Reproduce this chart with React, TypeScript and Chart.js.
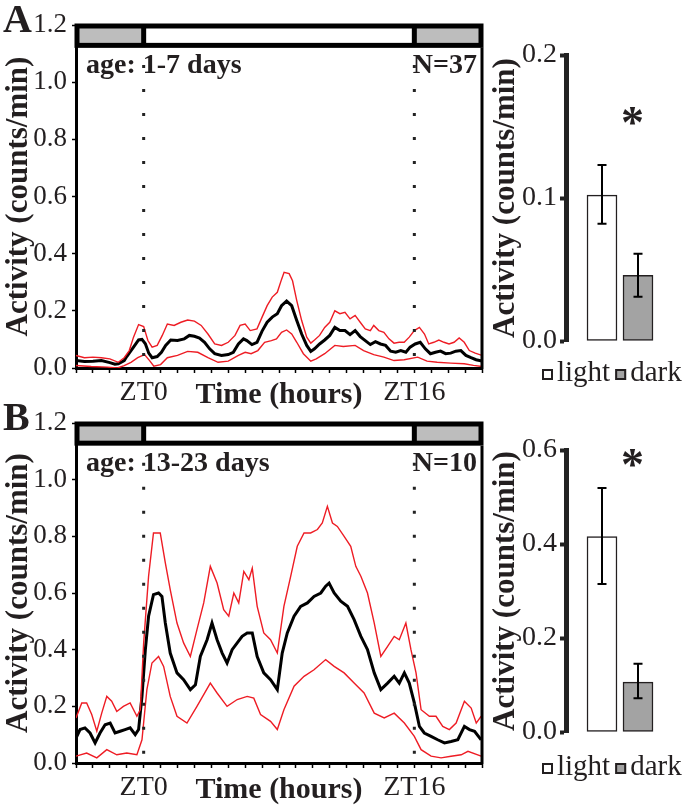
import React, { useEffect, useRef } from 'react';
import { Chart, registerables } from 'chart.js';

Chart.register(...registerables);

const SERIF = '"Liberation Serif", "Times New Roman", Times, serif';
const INK = '#231f20';
const RED = '#ee1c24';
const STRIP_GRAY = '#bdbdbd';
const BAR_GRAY = '#a3a3a3';

// ---------- time axis ----------
const X_MIN = -4;
const X_MAX = 20;
const X_TICK_HOURS = [0, 16];
const X_TICK_LABELS = ['ZT0', 'ZT16'];
const LIGHT_ON = 0;
const LIGHT_OFF = 16;
const STRIP_BOTTOM = 1.12;
const DOT_LINE = [1.06, 0.03];

// ---------- panel A (age 1-7 days) ----------
const A_MEAN_H = [-4, -3.5, -3, -2.5, -2, -1.7, -1.5, -1.15, -1, -0.6, -0.3, -0.1, 0.1, 0.3, 0.5, 0.8, 1.05, 1.3, 1.6, 2.0, 2.4, 2.7, 3.0, 3.3, 3.6, 3.9, 4.2, 4.6, 5.0, 5.3, 5.6, 5.9, 6.1, 6.4, 6.7, 7.0, 7.3, 7.6, 7.9, 8.15, 8.45, 8.75, 9.05, 9.34, 9.64, 9.88, 10.1, 10.4, 10.7, 11.0, 11.3, 11.6, 11.9, 12.2, 12.5, 12.8, 13.1, 13.4, 13.7, 14.0, 14.3, 14.6, 14.9, 15.2, 15.5, 15.75, 16.05, 16.35, 16.65, 16.95, 17.25, 17.55, 17.85, 18.15, 18.45, 18.75, 19.05, 19.35, 19.65, 20];
const A_MEAN = [0.026, 0.023, 0.024, 0.026, 0.019, 0.013, 0.015, 0.026, 0.04, 0.073, 0.098, 0.1, 0.085, 0.052, 0.036, 0.04, 0.055, 0.079, 0.098, 0.096, 0.102, 0.114, 0.111, 0.105, 0.09, 0.067, 0.05, 0.044, 0.047, 0.055, 0.084, 0.102, 0.096, 0.082, 0.09, 0.129, 0.16, 0.178, 0.19, 0.218, 0.234, 0.218, 0.166, 0.119, 0.079, 0.058, 0.067, 0.084, 0.098, 0.114, 0.142, 0.131, 0.131, 0.117, 0.131, 0.11, 0.096, 0.082, 0.092, 0.084, 0.079, 0.059, 0.055, 0.061, 0.055, 0.073, 0.084, 0.09, 0.067, 0.05, 0.055, 0.059, 0.05, 0.052, 0.059, 0.061, 0.044, 0.036, 0.029, 0.024];
const A_UPPER_H = [-4, -3.5, -3, -2.5, -2, -1.5, -1.15, -0.85, -0.6, -0.3, 0, 0.25, 0.5, 0.8, 1.1, 1.4, 1.8, 2.2, 2.6, 3.0, 3.4, 3.8, 4.2, 4.6, 5.0, 5.4, 5.7, 6.0, 6.3, 6.7, 7.0, 7.3, 7.6, 7.9, 8.15, 8.3, 8.6, 8.8, 9.05, 9.34, 9.64, 9.88, 10.1, 10.4, 10.7, 11.0, 11.3, 11.6, 11.9, 12.2, 12.5, 12.8, 13.1, 13.4, 13.6, 13.9, 14.2, 14.5, 14.8, 15.1, 15.4, 15.7, 16.0, 16.3, 16.6, 16.85, 17.15, 17.45, 17.75, 18.05, 18.35, 18.65, 18.95, 19.25, 19.6, 20];
const A_UPPER = [0.044, 0.036, 0.038, 0.036, 0.032, 0.02, 0.036, 0.061, 0.108, 0.152, 0.145, 0.096, 0.073, 0.079, 0.114, 0.154, 0.149, 0.16, 0.168, 0.164, 0.149, 0.119, 0.084, 0.079, 0.09, 0.114, 0.149, 0.154, 0.131, 0.137, 0.178, 0.218, 0.248, 0.265, 0.31, 0.335, 0.33, 0.305, 0.236, 0.166, 0.108, 0.087, 0.098, 0.114, 0.142, 0.16, 0.2, 0.19, 0.195, 0.172, 0.184, 0.16, 0.137, 0.131, 0.149, 0.131, 0.125, 0.102, 0.087, 0.09, 0.09, 0.108, 0.131, 0.142, 0.119, 0.084, 0.09, 0.098, 0.09, 0.084, 0.09, 0.105, 0.09, 0.061, 0.052, 0.044];
const A_LOWER_H = [-4, -3.1, -2.15, -1.55, -1.15, -0.75, -0.35, 0.05, 0.35, 0.6, 1.0, 1.4, 2.0, 2.6, 3.2, 3.8, 4.4, 5.0, 5.6, 6.0, 6.35, 6.75, 7.15, 7.55, 7.85, 8.15, 8.45, 8.75, 9.05, 9.44, 9.88, 10.2, 10.7, 11.3, 11.8, 12.5, 13.0, 13.6, 14.2, 14.8, 15.4, 16.2, 16.75, 17.35, 18.15, 18.95, 19.5, 20];
const A_LOWER = [0.009, 0.005, 0.003, 0.0, 0.008, 0.02, 0.036, 0.047, 0.026, 0.006, 0.012, 0.036, 0.044, 0.058, 0.055, 0.036, 0.02, 0.024, 0.044, 0.055, 0.05, 0.061, 0.09, 0.096, 0.102, 0.125, 0.133, 0.119, 0.09, 0.05, 0.024, 0.032, 0.05, 0.079, 0.075, 0.079, 0.061, 0.047, 0.038, 0.026, 0.029, 0.038, 0.024, 0.02, 0.017, 0.015, 0.009, 0.005];

// ---------- panel B (age 13-23 days) ----------
const B_MEAN_H = [-4, -3.76, -3.47, -3.17, -2.87, -2.58, -2.28, -1.98, -1.69, -1.39, -1.1, -0.8, -0.5, -0.3, -0.1, 0.1, 0.29, 0.58, 0.88, 1.08, 1.28, 1.57, 1.97, 2.36, 2.76, 3.06, 3.35, 3.75, 4.04, 4.34, 4.64, 4.93, 5.23, 5.53, 5.82, 6.12, 6.42, 6.71, 7.1, 7.5, 7.9, 8.19, 8.49, 8.89, 9.28, 9.68, 10.07, 10.47, 10.76, 10.96, 11.26, 11.65, 12.05, 12.44, 12.84, 13.23, 13.63, 14.02, 14.42, 14.81, 15.11, 15.41, 15.7, 16.0, 16.3, 16.59, 16.99, 17.38, 17.78, 18.17, 18.57, 18.96, 19.26, 19.56, 19.95];
const B_MEAN = [0.088, 0.118, 0.124, 0.106, 0.071, 0.106, 0.135, 0.141, 0.106, 0.112, 0.118, 0.124, 0.1, 0.118, 0.235, 0.4, 0.518, 0.594, 0.6, 0.588, 0.494, 0.388, 0.318, 0.294, 0.259, 0.276, 0.376, 0.435, 0.494, 0.435, 0.388, 0.353, 0.4, 0.424, 0.447, 0.459, 0.459, 0.376, 0.318, 0.294, 0.259, 0.388, 0.459, 0.518, 0.553, 0.565, 0.588, 0.6, 0.624, 0.635, 0.6, 0.571, 0.553, 0.506, 0.447, 0.4, 0.318, 0.259, 0.282, 0.306, 0.282, 0.318, 0.282, 0.212, 0.129, 0.106, 0.094, 0.082, 0.071, 0.076, 0.082, 0.129, 0.118, 0.112, 0.082];
const B_UPPER_H = [-4, -3.66, -3.37, -3.07, -2.77, -2.48, -2.18, -1.89, -1.59, -1.2, -0.8, -0.4, -0.2, 0.0, 0.29, 0.58, 0.98, 1.28, 1.57, 1.97, 2.36, 2.76, 3.15, 3.55, 3.94, 4.34, 4.73, 5.03, 5.33, 5.62, 5.92, 6.22, 6.42, 6.71, 7.1, 7.5, 7.9, 8.29, 8.69, 9.08, 9.48, 9.87, 10.27, 10.56, 10.86, 11.16, 11.45, 11.85, 12.24, 12.54, 12.84, 13.23, 13.63, 14.02, 14.42, 14.81, 15.11, 15.5, 15.8, 16.1, 16.4, 16.89, 17.28, 17.68, 18.07, 18.47, 18.96, 19.36, 19.66, 19.95];
const B_UPPER = [0.159, 0.212, 0.212, 0.171, 0.112, 0.176, 0.235, 0.218, 0.182, 0.2, 0.212, 0.165, 0.188, 0.424, 0.659, 0.812, 0.812, 0.706, 0.612, 0.494, 0.424, 0.376, 0.471, 0.565, 0.694, 0.635, 0.541, 0.518, 0.6, 0.565, 0.676, 0.647, 0.688, 0.553, 0.459, 0.435, 0.388, 0.553, 0.659, 0.765, 0.812, 0.812, 0.824, 0.847, 0.906, 0.847, 0.835, 0.8, 0.765, 0.694, 0.659, 0.6, 0.494, 0.376, 0.412, 0.447, 0.435, 0.494, 0.4, 0.318, 0.188, 0.165, 0.165, 0.129, 0.118, 0.141, 0.218, 0.194, 0.141, 0.165];
const B_LOWER_H = [-4, -3.37, -2.77, -2.18, -1.59, -1.0, -0.4, -0.1, 0.19, 0.49, 0.88, 1.18, 1.57, 1.97, 2.56, 3.15, 3.94, 4.34, 4.93, 5.53, 6.12, 6.51, 6.91, 7.5, 7.9, 8.29, 8.89, 9.48, 10.07, 10.76, 11.26, 11.85, 12.44, 13.03, 13.63, 14.22, 14.81, 15.41, 16.0, 16.4, 16.99, 17.58, 18.17, 18.77, 19.17, 19.95];
const B_LOWER = [0.024, 0.035, 0.018, 0.047, 0.029, 0.035, 0.029, 0.082, 0.259, 0.353, 0.376, 0.341, 0.235, 0.165, 0.141, 0.2, 0.282, 0.247, 0.2, 0.224, 0.235, 0.229, 0.171, 0.147, 0.118, 0.188, 0.271, 0.306, 0.329, 0.365, 0.341, 0.318, 0.282, 0.247, 0.176, 0.159, 0.176, 0.141, 0.094, 0.047, 0.024, 0.018, 0.024, 0.029, 0.041, 0.024];

// ---------- bar summaries ----------
const BAR_CATEGORIES = ['light', 'dark'];
const BAR_POSITIONS = [1, 2];
const A_BAR_MEAN = [0.102, 0.046];
const A_BAR_LO = [0.082, 0.031];
const A_BAR_HI = [0.123, 0.061];
const B_BAR_MEAN = [0.416, 0.106];
const B_BAR_LO = [0.315, 0.072];
const B_BAR_HI = [0.519, 0.145];

const pts = (h: number[], v: number[]) => h.map((x, i) => ({ x, y: v[i] }));

function makeLinePlugin(letter: string, age: string, n: string) {
  return {
    id: 'panelDecor' + letter,
    afterDraw(chart: any) {
      const { ctx, chartArea: ca, scales } = chart;
      const x = scales.x;
      const y = scales.y;
      ctx.save();
      const sTop = y.getPixelForValue(1.2) - 1.5;
      const sBot = y.getPixelForValue(STRIP_BOTTOM);
      // right frame border
      ctx.strokeStyle = '#000';
      ctx.lineWidth = 3;
      ctx.beginPath();
      ctx.moveTo(ca.right, sBot);
      ctx.lineTo(ca.right, ca.bottom + 1.5);
      ctx.stroke();
      // light / dark strip
      const sL = ca.left - 1.5;
      const sR = ca.right + 1.5;
      const b = 5;
      ctx.fillStyle = '#000';
      ctx.fillRect(sL, sTop, sR - sL, sBot - sTop);
      const xOn = x.getPixelForValue(LIGHT_ON);
      const xOff = x.getPixelForValue(LIGHT_OFF);
      const ih = sBot - sTop - 2 * b;
      ctx.fillStyle = STRIP_GRAY;
      ctx.fillRect(sL + b, sTop + b, xOn - 2.5 - (sL + b), ih);
      ctx.fillStyle = '#fff';
      ctx.fillRect(xOn + 2.5, sTop + b, xOff - xOn - 5, ih);
      ctx.fillStyle = STRIP_GRAY;
      ctx.fillRect(xOff + 2.5, sTop + b, sR - b - (xOff + 2.5), ih);
      // texts
      ctx.fillStyle = INK;
      ctx.textBaseline = 'alphabetic';
      ctx.font = `bold 28px ${SERIF}`;
      ctx.textAlign = 'left';
      ctx.fillText(age, ca.left + 10, sBot + 25);
      ctx.textAlign = 'right';
      ctx.fillText(n, ca.right - 5, sBot + 25);
      ctx.font = `bold 30px ${SERIF}`;
      ctx.textAlign = 'center';
      ctx.fillText('Time (hours)', (ca.left + ca.right) / 2, ca.bottom + 35);
      ctx.font = `bold 40px ${SERIF}`;
      ctx.textAlign = 'left';
      ctx.fillText(letter, 3, y.getPixelForValue(1.2) + 7);
      ctx.restore();
    },
  };
}

function ActivityLine(props: {
  top: number; padTop: number; letter: string; age: string; n: string;
  mean: [number[], number[]]; upper: [number[], number[]]; lower: [number[], number[]];
}) {
  const ref = useRef<HTMLCanvasElement>(null);
  useEffect(() => {
    const dot = (h: number) => ({
      data: DOT_LINE.map((v) => ({ x: h, y: v })),
      borderColor: '#222', borderWidth: 3, borderDash: [3, 21], pointRadius: 0, tension: 0,
    });
    const chart = new Chart(ref.current as HTMLCanvasElement, {
      type: 'line',
      data: {
        datasets: [
          { label: 'ZT0', ...dot(LIGHT_ON) },
          { label: 'ZT16', ...dot(LIGHT_OFF) },
          { label: 'upper', data: pts(...props.upper), borderColor: RED, borderWidth: 1.4, pointRadius: 0, tension: 0 },
          { label: 'lower', data: pts(...props.lower), borderColor: RED, borderWidth: 1.4, pointRadius: 0, tension: 0 },
          { label: 'mean', data: pts(...props.mean), borderColor: '#000', borderWidth: 3, pointRadius: 0, tension: 0 },
        ] as any,
      },
      options: {
        animation: false,
        responsive: false,
        devicePixelRatio: 1,
        layout: { padding: { top: props.padTop, right: 8, left: 0, bottom: 0 } },
        plugins: { legend: { display: false }, tooltip: { enabled: false } },
        scales: {
          x: {
            type: 'linear', min: X_MIN, max: X_MAX,
            ticks: {
              stepSize: 1, autoSkip: false, maxRotation: 0, padding: 3, color: INK,
              font: { family: SERIF, size: 28 },
              callback: (v: any) => {
                const i = X_TICK_HOURS.indexOf(Number(v));
                return i >= 0 ? X_TICK_LABELS[i] : '';
              },
            },
            grid: { drawOnChartArea: false, tickLength: 5, tickWidth: 1.5, tickColor: '#000' },
            border: { color: '#000', width: 3 },
            afterFit: (s: any) => { s.height = 44; },
          },
          y: {
            min: 0, max: 1.2,
            ticks: {
              stepSize: 0.2, padding: 5, color: INK, font: { family: SERIF, size: 27 },
              callback: (v: any) => Number(v).toFixed(1),
            },
            grid: { drawOnChartArea: false, tickLength: 4, tickWidth: 1.5, tickColor: '#000' },
            border: { color: '#000', width: 3 },
            title: {
              display: true, text: 'Activity (counts/min)', color: INK,
              font: { family: SERIF, size: 31, weight: 'bold', lineHeight: 1 },
              padding: { top: 3, bottom: 0 },
            },
            afterFit: (s: any) => { s.width = 76; },
          },
        },
      } as any,
      plugins: [makeLinePlugin(props.letter, props.age, props.n)],
    });
    return () => chart.destroy();
  }, []);
  return (
    <canvas ref={ref} width={490} height={412}
      style={{ position: 'absolute', left: 0, top: props.top, width: 490, height: 412 }} />
  );
}

function makeBarPlugin(lo: number[], hi: number[], star: { x: number; y: number }, legendDrop: number) {
  return {
    id: 'barDecor',
    afterDatasetsDraw(chart: any) {
      const { ctx, chartArea: ca, scales } = chart;
      const x = scales.x;
      const y = scales.y;
      ctx.save();
      // error bars
      ctx.strokeStyle = '#000';
      ctx.lineWidth = 2;
      BAR_POSITIONS.forEach((p, i) => {
        const px = x.getPixelForValue(p);
        const y1 = y.getPixelForValue(lo[i]);
        const y2 = y.getPixelForValue(hi[i]);
        ctx.beginPath();
        ctx.moveTo(px, y1); ctx.lineTo(px, y2);
        ctx.moveTo(px - 4.5, y1); ctx.lineTo(px + 4.5, y1);
        ctx.moveTo(px - 4.5, y2); ctx.lineTo(px + 4.5, y2);
        ctx.stroke();
      });
      // significance asterisk
      ctx.fillStyle = INK;
      ctx.font = `bold 46px ${SERIF}`;
      ctx.textAlign = 'center';
      ctx.textBaseline = 'alphabetic';
      const m = ctx.measureText('*');
      const cy = y.getPixelForValue(star.y);
      const off = (m.actualBoundingBoxAscent - m.actualBoundingBoxDescent) / 2;
      ctx.fillText('*', x.getPixelForValue(star.x), cy + off);
      // legend
      const boxTop = ca.bottom + legendDrop;
      const base = boxTop + 12;
      ctx.font = `29px ${SERIF}`;
      ctx.textAlign = 'left';
      let lx = ca.left - 24;
      const fills = ['#ffffff', BAR_GRAY];
      BAR_CATEGORIES.forEach((label, i) => {
        ctx.fillStyle = fills[i];
        ctx.fillRect(lx, boxTop, 11, 11);
        ctx.strokeStyle = INK;
        ctx.lineWidth = 2;
        ctx.strokeRect(lx + 1, boxTop + 1, 9, 9);
        ctx.fillStyle = INK;
        ctx.fillText(label, lx + 15, base);
        lx += 15 + ctx.measureText(label).width + 5;
      });
      ctx.restore();
    },
  };
}

function ActivityBars(props: {
  top: number; height: number; max: number; step: number; padBottom: number; legendDrop: number;
  mean: number[]; lo: number[]; hi: number[]; starY: number;
}) {
  const ref = useRef<HTMLCanvasElement>(null);
  useEffect(() => {
    const chart = new Chart(ref.current as HTMLCanvasElement, {
      type: 'bar',
      data: {
        datasets: [{
          label: 'activity',
          data: BAR_POSITIONS.map((p, i) => ({ x: p, y: props.mean[i] })),
          backgroundColor: ['#ffffff', BAR_GRAY],
          borderColor: INK, borderWidth: 1.5, borderSkipped: false, barThickness: 30,
        }] as any,
      },
      options: {
        animation: false,
        responsive: false,
        devicePixelRatio: 1,
        layout: { padding: { top: 55, right: 11, left: 0, bottom: props.padBottom } },
        plugins: { legend: { display: false }, tooltip: { enabled: false } },
        scales: {
          x: { type: 'linear', min: 0, max: 3, offset: false, display: false },
          y: {
            min: 0, max: props.max,
            ticks: {
              stepSize: props.step, padding: 3, color: INK, font: { family: SERIF, size: 28 },
              callback: (v: any) => Number(v).toFixed(1),
            },
            grid: { drawOnChartArea: false, tickLength: 6, tickWidth: 4, tickColor: '#222' },
            border: { color: '#222', width: 5 },
            title: {
              display: true, text: 'Activity (counts/min)', color: INK,
              font: { family: SERIF, size: 31, weight: 'bold', lineHeight: 1 },
              padding: { top: 0, bottom: 0 },
            },
            afterFit: (s: any) => { s.width = 76; },
          },
        },
      } as any,
      plugins: [makeBarPlugin(props.lo, props.hi, { x: 1.85, y: props.starY }, props.legendDrop)],
    });
    return () => chart.destroy();
  }, []);
  return (
    <canvas ref={ref} width={195} height={props.height}
      style={{ position: 'absolute', left: 490, top: props.top, width: 195, height: props.height }} />
  );
}

export default function App() {
  return (
    <div style={{ position: 'absolute', left: 0, top: 0, width: 685, height: 807, background: '#fff', overflow: 'hidden' }}>
      <ActivityLine top={0} padTop={25} letter="A" age="age: 1-7 days" n="N=37"
        mean={[A_MEAN_H, A_MEAN]} upper={[A_UPPER_H, A_UPPER]} lower={[A_LOWER_H, A_LOWER]} />
      <ActivityLine top={395} padTop={28} letter="B" age="age: 13-23 days" n="N=10"
        mean={[B_MEAN_H, B_MEAN]} upper={[B_UPPER_H, B_UPPER]} lower={[B_LOWER_H, B_LOWER]} />
      <ActivityBars top={0} height={395} max={0.2} step={0.1} padBottom={54} legendDrop={28}
        mean={A_BAR_MEAN} lo={A_BAR_LO} hi={A_BAR_HI} starY={0.157} />
      <ActivityBars top={395} height={412} max={0.6} step={0.2} padBottom={75} legendDrop={31}
        mean={B_BAR_MEAN} lo={B_BAR_LO} hi={B_BAR_HI} starY={0.583} />
    </div>
  );
}
